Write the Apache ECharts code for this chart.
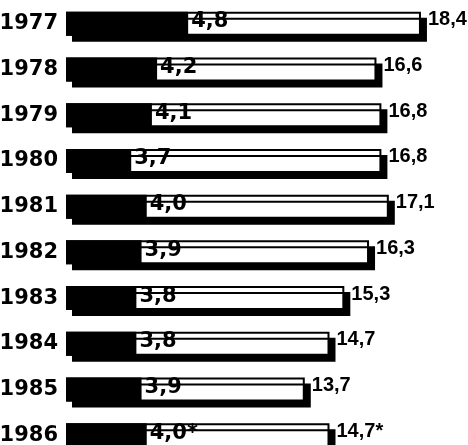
<!DOCTYPE html>
<html>
<head>
<meta charset="utf-8">
<script src="https://cdn.jsdelivr.net/npm/echarts@6/dist/echarts.min.js"></script>
<style>
html,body{margin:0;padding:0;background:#fff;}
#chart{width:468px;height:445px;}
</style>
</head>
<body>
<div id="chart"></div>
<script>
const years = ['1977','1978','1979','1980','1981','1982','1983','1984','1985','1986'];
const firstValues = [4.8, 4.2, 4.1, 3.7, 4.0, 3.9, 3.8, 3.8, 3.9, 4.0];
const totalValues = [18.4, 16.6, 16.8, 16.8, 17.1, 16.3, 15.3, 14.7, 13.7, 14.7];
const notes = ['', '', '', '', '', '', '', '', '', '*'];

function fmt(v){ return v.toFixed(1).replace('.', ','); }

const chart = echarts.init(document.getElementById('chart'), null, {renderer:'canvas'});
chart.setOption({
  animation: false,
  backgroundColor: '#fff',
  grid: {left: 67, top: 1, right: 8, bottom: -13, containLabel: false, outerBoundsMode: 'none'},
  xAxis: [
    {type: 'value', min: 4.08, max: 19.98, show: false},
    {type: 'value', min: 2.46, max: 10.05, show: false}
  ],
  yAxis: {
    type: 'category',
    data: years,
    inverse: true,
    axisLine: {show: false},
    axisTick: {show: false},
    splitLine: {show: false},
    axisLabel: {
      margin: 9,
      fontFamily: 'DejaVu Sans',
      fontWeight: 'bold',
      fontSize: 21,
      color: '#000',
      verticalAlign: 'middle',
      padding: [0, 0, 8, 0]
    }
  },
  series: [
    {
      type: 'bar',
      xAxisIndex: 0,
      barWidth: 24,
      barGap: '-100%',
      data: totalValues,
      itemStyle: {
        color: '#fff',
        borderColor: '#000',
        borderWidth: 2,
        shadowColor: '#000',
        shadowBlur: 0,
        shadowOffsetX: 6,
        shadowOffsetY: 6
      },
      label: {
        show: true,
        position: 'right',
        distance: 7,
        offset: [0, -4],
        formatter: p => fmt(p.value) + notes[p.dataIndex],
        fontFamily: '"Liberation Sans", sans-serif',
        fontWeight: 'bold',
        fontSize: 20,
        color: '#000'
      }
    },
    {
      type: 'bar',
      xAxisIndex: 1,
      barWidth: 24,
      barGap: '-100%',
      data: firstValues,
      itemStyle: {color: '#000', borderColor: '#000', borderWidth: 2},
      label: {
        show: true,
        position: 'right',
        distance: 3,
        offset: [0, -2],
        formatter: p => fmt(p.value) + notes[p.dataIndex],
        fontFamily: 'DejaVu Sans',
        fontWeight: 'bold',
        fontSize: 21,
        color: '#000'
      }
    }
  ]
});
</script>
</body>
</html>
